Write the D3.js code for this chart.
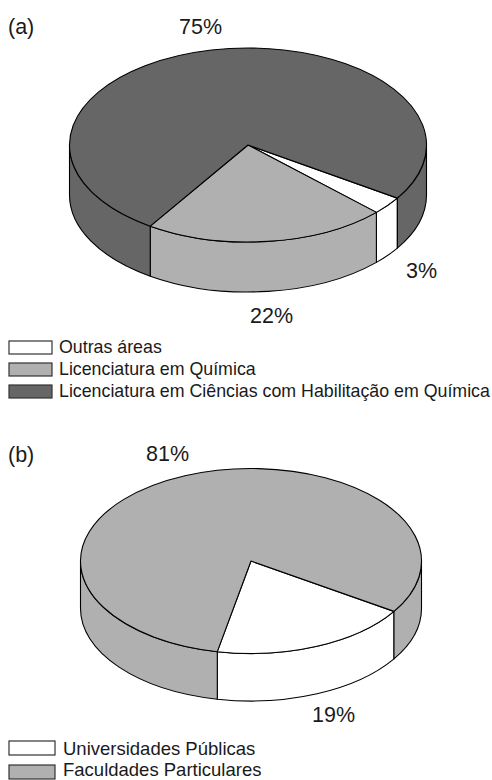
<!DOCTYPE html>
<html lang="pt">
<head>
  <meta charset="UTF-8">
  <title>Formação dos professores de Química</title>
  <script src="https://d3js.org/d3.v7.min.js"></script>
  <style>
    body { margin: 0; background: #fff; }
    svg { display: block; }
    text { font-family: "Liberation Sans", Arial, sans-serif; fill: #1a1a1a; }
    .label { font-size: 21.5px; }
  </style>
</head>
<body>
  <svg id="chart" width="492" height="780"></svg>
  <script>
    // (a)
    const categoriesA = ["Outras áreas", "Licenciatura em Química", "Licenciatura em Ciências com Habilitação em Química"];
    const valuesA = [3, 22, 75];
    const colorsA = ["#ffffff", "#b0b0b0", "#666666"];

    // (b)
    const categoriesB = ["Universidades Públicas", "Faculdades Particulares"];
    const valuesB = [19, 81];
    const colorsB = ["#ffffff", "#b0b0b0"];

    const svg = d3.select("#chart");
    const deg = Math.PI / 180;

    function drawPie(opts) {
      const { values, colors, cx, cy, rx, ry, depth, start } = opts;
      const g = svg.append("g");

      const pie = d3.pie().sort(null).startAngle(start * deg).endAngle((start + 360) * deg);
      const arcs = pie(values);

      // point on the top ellipse, angle clockwise from 12 o'clock
      const px = a => cx + rx * Math.sin(a);
      const py = a => cy - ry * Math.cos(a);

      // side wall, only the front half (90 to 270 deg) can be seen
      const front = [[90 * deg, 270 * deg], [450 * deg, 630 * deg]];
      arcs.forEach(d => {
        front.forEach(([f0, f1]) => {
          const a0 = Math.max(d.startAngle, f0);
          const a1 = Math.min(d.endAngle, f1);
          if (a1 <= a0) return;
          const p = `M${px(a0)},${py(a0)}` +
            `A${rx},${ry} 0 0 1 ${px(a1)},${py(a1)}` +
            `L${px(a1)},${py(a1) + depth}` +
            `A${rx},${ry} 0 0 0 ${px(a0)},${py(a0) + depth}Z`;
          g.append("path")
            .attr("d", p)
            .attr("fill", colors[d.index])
            .attr("stroke", "#000")
            .attr("stroke-width", 1.1)
            .attr("stroke-linejoin", "round");
        });
      });

      // top face
      const arc = d3.arc().innerRadius(0).outerRadius(rx);
      g.append("g")
        .attr("transform", `translate(${cx},${cy}) scale(1,${ry / rx})`)
        .selectAll("path")
        .data(arcs)
        .join("path")
        .attr("d", arc)
        .attr("fill", (d, i) => colors[i])
        .attr("stroke", "#000")
        .attr("stroke-width", 1.1)
        .attr("stroke-linejoin", "round")
        .attr("vector-effect", "non-scaling-stroke");
    }

    function drawLegend(names, colors, opts) {
      const { x, w, h, textX, fontSize, boxTops, baselines } = opts;
      const g = svg.append("g");
      g.selectAll("rect")
        .data(names)
        .join("rect")
        .attr("x", x)
        .attr("y", (d, i) => boxTops[i])
        .attr("width", w)
        .attr("height", h)
        .attr("fill", (d, i) => colors[i])
        .attr("stroke", "#333")
        .attr("stroke-width", 1.2);
      g.selectAll("text")
        .data(names)
        .join("text")
        .attr("x", textX)
        .attr("y", (d, i) => baselines[i])
        .attr("font-size", fontSize)
        .text(d => d);
    }

    function label(text, x, y) {
      svg.append("text").attr("class", "label").attr("x", x).attr("y", y).text(text);
    }

    drawPie({ values: valuesA, colors: colorsA, cx: 248, cy: 145, rx: 178.5, ry: 97, depth: 50, start: 123.2 });
    drawPie({ values: valuesB, colors: colorsB, cx: 251, cy: 561, rx: 170.5, ry: 92.5, depth: 47.5, start: 123 });

    label("(a)", 8, 34);
    label(valuesA[2] + "%", 179, 34);
    label(valuesA[0] + "%", 406, 278);
    label(valuesA[1] + "%", 250, 323);
    label("(b)", 8, 462);
    label(valuesB[1] + "%", 146, 461);
    label(valuesB[0] + "%", 312, 722);

    drawLegend(categoriesA, colorsA, { x: 9, w: 43, h: 13, textX: 59, fontSize: 17.8, boxTops: [341, 363, 385], baselines: [353, 375, 397] });
    drawLegend(categoriesB, colorsB, { x: 9, w: 46, h: 14, textX: 63, fontSize: 18.5, boxTops: [741, 765], baselines: [755, 776] });
  </script>
</body>
</html>
